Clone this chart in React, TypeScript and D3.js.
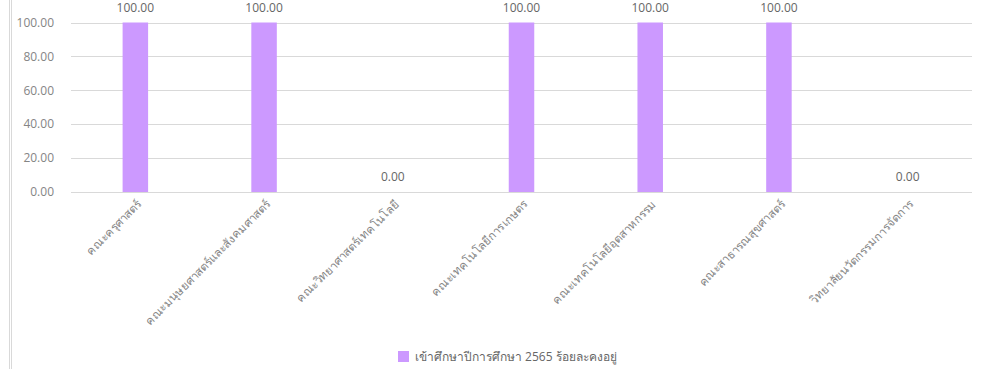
import React, { useEffect, useRef } from "react";
import * as d3 from "d3";

const categories = [
  "คณะครุศาสตร์",
  "คณะมนุษยศาสตร์และสังคมศาสตร์",
  "คณะวิทยาศาสตร์เทคโนโลยี",
  "คณะเทคโนโลยีการเกษตร",
  "คณะเทคโนโลยีอุตสาหกรรม",
  "คณะสาธารณสุขศาสตร์",
  "วิทยาลัยนวัตกรรมการจัดการ",
];
const values = [100, 100, 0, 100, 100, 100, 0];
const yTicks = [0, 20, 40, 60, 80, 100];
const seriesName = "เข้าศึกษาปีการศึกษา 2565 ร้อยละคงอยู่";

const W = 982;
const H = 369;
const FONT = "'Open Sans', 'Noto Sans', sans-serif";

export default function App() {
  const ref = useRef<SVGSVGElement>(null);
  useEffect(() => {
    const svg = d3.select(ref.current);
    svg.selectAll("*").remove();
    const left = 71, right = 972, top = 22.5, bottom = 192;
    const x = d3.scaleBand().domain(categories).range([left, right]).paddingInner(0).paddingOuter(0);
    const y = d3.scaleLinear().domain([0, 100]).range([bottom, top]);

    svg.append("rect").attr("x", 0).attr("y", 0).attr("width", W).attr("height", H).attr("fill", "#fff");
    // left border lines
    svg.append("line").attr("x1", 9.5).attr("x2", 9.5).attr("y1", 0).attr("y2", H).attr("stroke", "#d9d9d9");
    svg.append("line").attr("x1", 11.5).attr("x2", 11.5).attr("y1", 0).attr("y2", H).attr("stroke", "#d9d9d9");

    // gridlines
    svg.append("g").selectAll("line").data(yTicks).join("line")
      .attr("x1", left).attr("x2", right)
      .attr("y1", (d) => Math.round(y(d)) + 0.5).attr("y2", (d) => Math.round(y(d)) + 0.5)
      .attr("stroke", "#d9d9d9").attr("stroke-width", 1);

    // y labels
    svg.append("g").selectAll("text").data(yTicks).join("text")
      .attr("x", 54).attr("y", (d) => y(d)).attr("dy", "0.35em")
      .attr("text-anchor", "end").attr("font-family", FONT).attr("font-size", 12)
      .attr("fill", "#858585").text((d) => d.toFixed(2));

    const bw = 25.5;
    svg.append("g").selectAll("rect").data(values).join("rect")
      .attr("x", (_d, i) => x(categories[i])! + x.bandwidth() / 2 - bw / 2)
      .attr("y", (d) => y(d)).attr("width", bw).attr("height", (d) => y(0) - y(d))
      .attr("fill", "#cc99ff");

    // value labels
    svg.append("g").selectAll("text").data(values).join("text")
      .attr("x", (_d, i) => x(categories[i])! + x.bandwidth() / 2)
      .attr("y", (d) => y(d) - 11)
      .attr("text-anchor", "middle").attr("font-family", FONT).attr("font-size", 12)
      .attr("fill", "#666666").text((d) => d.toFixed(2));

    // category labels
    svg.append("g").selectAll("text").data(categories).join("text")
      .attr("transform", (d) => `translate(${x(d)! + x.bandwidth() / 2 + 4},${bottom + 10}) rotate(-45)`)
      .attr("text-anchor", "end").attr("dy", "0.35em")
      .attr("font-family", FONT).attr("font-size", 11.5)
      .attr("fill", "#858585").text((d) => d);

    // legend
    const lg = svg.append("g");
    lg.append("rect").attr("x", 398).attr("y", 351).attr("width", 11).attr("height", 11).attr("fill", "#cc99ff");
    lg.append("text").attr("x", 415).attr("y", 356.5).attr("dy", "0.35em")
      .attr("font-family", FONT).attr("font-size", 12).attr("fill", "#666666").text(seriesName);
  }, []);
  return (
    <svg ref={ref} width={W} height={H} style={{ position: "absolute", left: 0, top: 0 }} />
  );
}
